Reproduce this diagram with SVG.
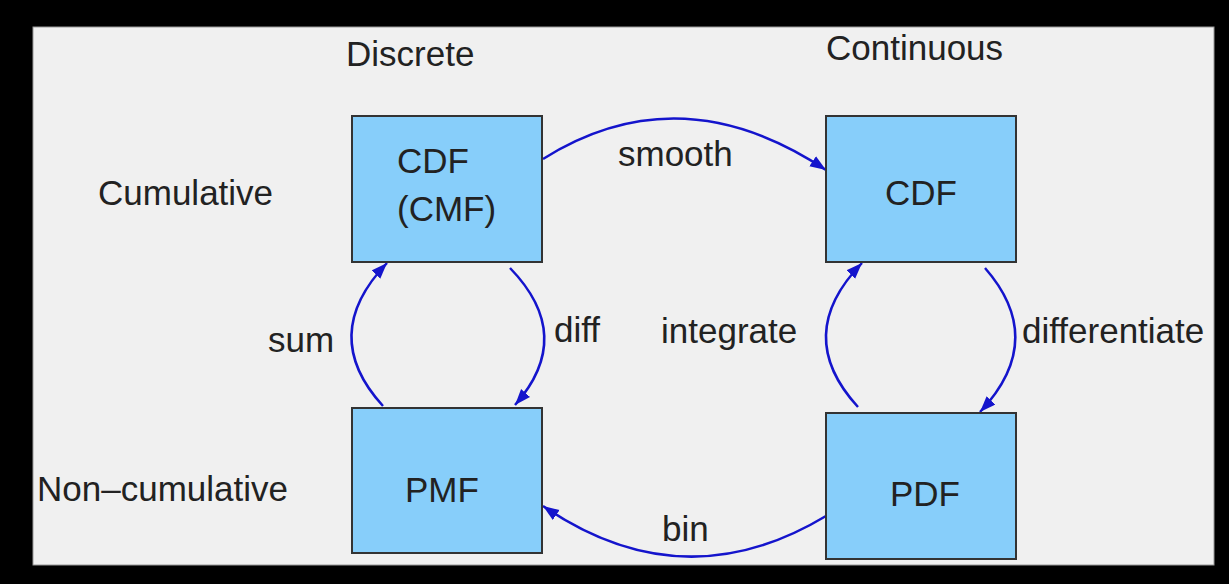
<svg xmlns="http://www.w3.org/2000/svg" width="1229" height="584" viewBox="0 0 1229 584">
<defs>
<style>
.box{fill:#87cefa;stroke:#333;stroke-width:2}
.t{font-family:"Liberation Sans",Arial,sans-serif;font-size:35px;fill:#222}
.c{fill:none;stroke:#1414cc;stroke-width:2.5}
</style>
<marker id="ah" markerUnits="userSpaceOnUse" markerWidth="18" markerHeight="14" refX="16" refY="6" orient="auto">
<path d="M0,0 L16,6 L0,12 z" fill="#1414cc"/>
</marker>
</defs>
<rect x="0" y="0" width="1229" height="584" fill="#000"/>
<rect x="33" y="27" width="1181" height="538" fill="#f0f0f0" stroke="#999" stroke-width="1"/>
<g id="labels">
<text class="t" x="346" y="66">Discrete</text>
<text class="t" x="826" y="60">Continuous</text>
<text class="t" x="98" y="205">Cumulative</text>
<text class="t" x="37" y="501">Non–cumulative</text>
</g>
<g id="connectors">
<path class="c" d="M543,159 Q680,73 826,170" marker-end="url(#ah)"/>
<path class="c" d="M510,268 Q576,336 515,405" marker-end="url(#ah)"/>
<path class="c" d="M383,406 Q318,335 387,263" marker-end="url(#ah)"/>
<path class="c" d="M858,407 Q792,335 862,263" marker-end="url(#ah)"/>
<path class="c" d="M985,268 Q1048,340 980,412" marker-end="url(#ah)"/>
<path class="c" d="M826,516 Q683,602 543,506" marker-end="url(#ah)"/>
<text class="t" x="618" y="166">smooth</text>
<text class="t" x="268" y="352">sum</text>
<text class="t" x="554" y="342">diff</text>
<text class="t" x="661" y="343">integrate</text>
<text class="t" x="1022" y="343">differentiate</text>
<text class="t" x="662" y="541">bin</text>
</g>
<g id="cdf-discrete">
<rect class="box" x="352" y="116" width="190" height="146"/>
<text class="t" x="397" y="173">CDF</text>
<text class="t" x="397" y="221">(CMF)</text>
</g>
<g id="cdf-continuous">
<rect class="box" x="826" y="116" width="190" height="146"/>
<text class="t" x="921" y="205" text-anchor="middle">CDF</text>
</g>
<g id="pmf">
<rect class="box" x="352" y="408" width="190" height="145"/>
<text class="t" x="405" y="502">PMF</text>
</g>
<g id="pdf">
<rect class="box" x="826" y="413" width="190" height="146"/>
<text class="t" x="925" y="506" text-anchor="middle">PDF</text>
</g>
</svg>
